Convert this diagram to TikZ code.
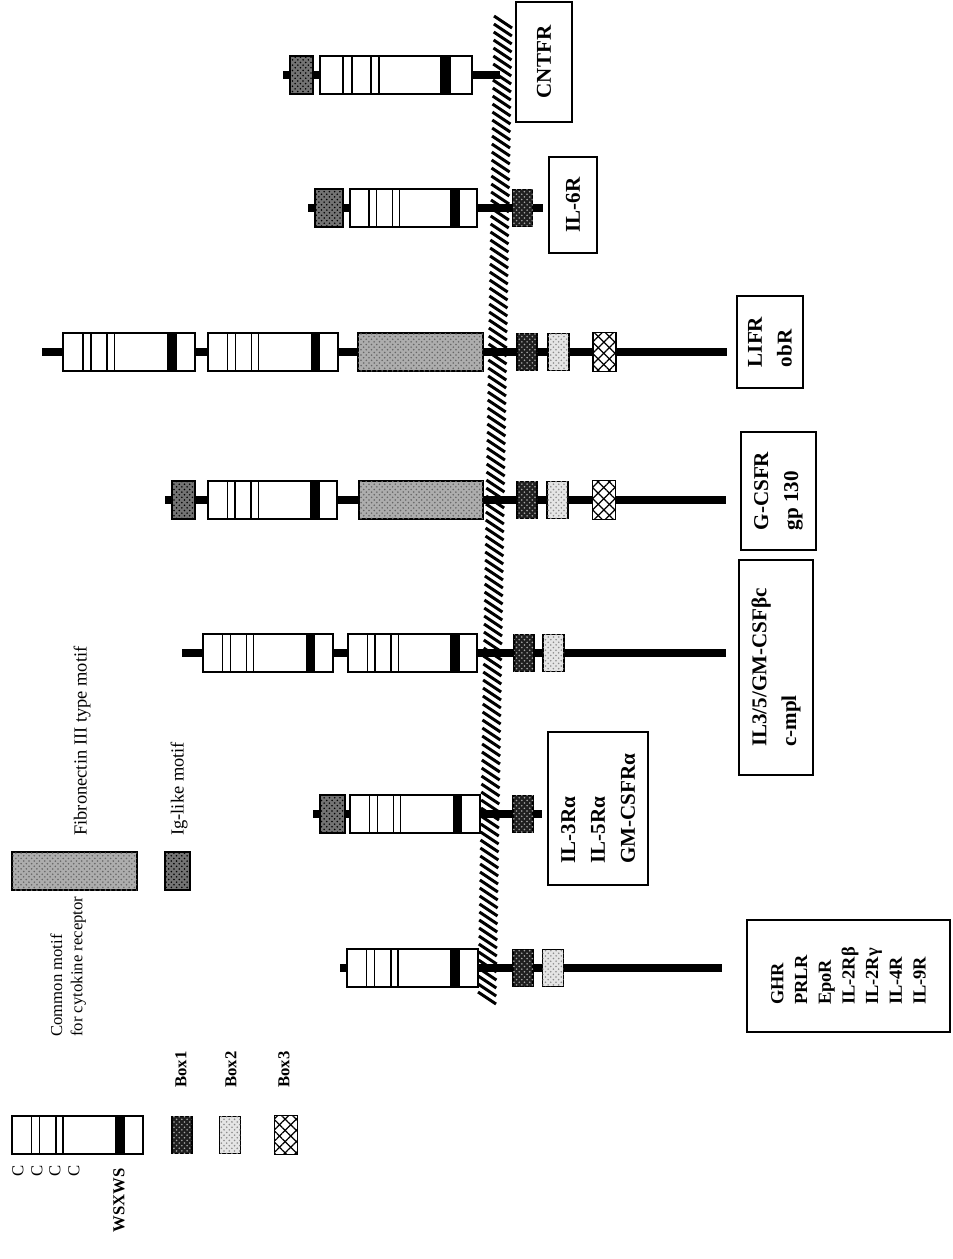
\documentclass[tikz,border=0pt]{standalone}
\usepackage{fontspec}
\setmainfont{Liberation Serif}
\usetikzlibrary{positioning,calc,patterns,patterns.meta}

\tikzset{
  stalk/.style={line width=4.5pt},
  memb/.style={line width=1.7pt},
  dom/.style={draw, line width=1.1pt, inner sep=0pt, minimum height=0.76cm},
  motif/.style={dom, fill=white, minimum width=2.6cm,
    path picture={
      \coordinate (pa) at (path picture bounding box.south west);
      \coordinate (pb) at (path picture bounding box.north east);
      \foreach \f in {0.15,0.21,0.335,0.39}
        \draw[line width=0.9pt] ($(pa)!\f!(pa-|pb)$) -- ($(pa|-pb)!\f!(pb)$);
      \fill[black] ($(pa)!0.79!(pa-|pb)$) rectangle ($(pa|-pb)!0.865!(pb)$);
    }},
  fn/.style={dom, fill=black!32, minimum width=2.5cm,
    postaction={pattern=crosshatch dots, pattern color=black!60}},
  ig/.style={dom, fill=black!55, minimum width=0.5cm,
    postaction={pattern=crosshatch dots, pattern color=black}},
  boxa/.style={dom, fill=black!88, minimum width=0.4cm, minimum height=0.74cm,
    postaction={pattern=crosshatch dots, pattern color=black!35}},
  boxb/.style={dom, fill=black!10, minimum width=0.42cm, minimum height=0.74cm,
    postaction={pattern=crosshatch dots, pattern color=black!45}},
  boxc/.style={dom, fill=white, minimum width=0.46cm, minimum height=0.78cm,
    postaction={pattern={Lines[angle=45,distance=4.5pt,line width=0.7pt]}},
    postaction={pattern={Lines[angle=-45,distance=4.5pt,line width=0.7pt]}}},
  lbl/.style={draw, line width=1.1pt, rotate=90, align=left, inner sep=0pt,
    font=\fontsize{12}{17}\selectfont\bfseries},
  legtxt/.style={rotate=90, align=left, inner sep=0pt,
    font=\fontsize{9.5}{11.5}\selectfont},
  legbig/.style={legtxt, font=\fontsize{10.5}{12.5}\selectfont},
  legbold/.style={legtxt, font=\fontsize{9.5}{11.5}\selectfont\bfseries},
}

\begin{document}
\begin{tikzpicture}[x=0.02cm, y=-0.02cm]
\useasboundingbox (0,0) rectangle (953,1259);

% cell membrane
\coordinate (mtop) at (503,22);
\coordinate (mbot) at (487,1000);
\foreach \yy in {22,30,...,998} {
  \pgfmathsetmacro\xx{503-16*(\yy-22)/978}
  \draw[memb] (\xx-9,\yy-6) -- (\xx+9,\yy+6);
}

% CNTFR
\coordinate (cntS) at (283,75);
\node[ig, minimum width=0.46cm] (cntIg) at (301.5,75) {};
\node[motif, minimum width=3.04cm] (cntM) at (396,75) {};
\coordinate (cntE) at (500,75);
\draw[stalk] (cntS) -- (cntIg) -- (cntM) -- (cntE);
\node[lbl, minimum width=2.4cm, minimum height=1.12cm] (cntL) at (544,62) {CNTFR};

% IL-6R
\coordinate (il6S) at (308,208);
\node[ig, minimum width=0.56cm] (il6Ig) at (329,208) {};
\node[motif, minimum width=2.54cm] (il6M) at (413.5,208) {};
\node[boxa] (il6B1) at (522.5,208) {};
\coordinate (il6E) at (543,208);
\draw[stalk] (il6S) -- (il6Ig) -- (il6M) -- (il6B1) -- (il6E);
\node[lbl, minimum width=1.92cm, minimum height=0.96cm] (il6L) at (573,205) {IL-6R};

% LIFR
\coordinate (lifS) at (42,352);
\node[motif, minimum width=2.64cm] (lifM1) at (129,352) {};
\node[motif] (lifM2) at (273,352) {};
\node[fn] (lifFn) at (420.5,352) {};
\node[boxa] (lifB1) at (527,352) {};
\node[boxb] (lifB2) at (558.5,352) {};
\node[boxc] (lifB3) at (604.5,352) {};
\coordinate (lifE) at (727,352);
\draw[stalk] (lifS) -- (lifM1) -- (lifM2) -- (lifFn) -- (lifB1) -- (lifB2) -- (lifB3) -- (lifE);
\node[lbl, minimum width=1.84cm, minimum height=1.32cm] (lifL) at (770,342) {LIFR\\obR};

% G-CSFR / gp130
\coordinate (gcsS) at (165,500);
\node[ig, minimum width=0.46cm] (gcsIg) at (183.5,500) {};
\node[motif, minimum width=2.58cm] (gcsM) at (272.5,500) {};
\node[fn, minimum width=2.48cm] (gcsFn) at (421,500) {};
\node[boxa] (gcsB1) at (527,500) {};
\node[boxb] (gcsB2) at (557.5,500) {};
\node[boxc] (gcsB3) at (604,500) {};
\coordinate (gcsE) at (726,500);
\draw[stalk] (gcsS) -- (gcsIg) -- (gcsM) -- (gcsFn) -- (gcsB1) -- (gcsB2) -- (gcsB3) -- (gcsE);
\node[lbl, minimum width=2.36cm, minimum height=1.5cm] (gcsL) at (778.5,491) {G-CSFR\\gp 130};

% common beta chain
\coordinate (bcS) at (182,653);
\node[motif] (bcM1) at (268,653) {};
\node[motif, minimum width=2.58cm] (bcM2) at (412.5,653) {};
\node[boxa] (bcB1) at (524,653) {};
\node[boxb] (bcB2) at (553.5,653) {};
\coordinate (bcE) at (726,653);
\draw[stalk] (bcS) -- (bcM1) -- (bcM2) -- (bcB1) -- (bcB2) -- (bcE);
\node[lbl, minimum width=4.3cm, minimum height=1.48cm] (bcL) at (776,667.5) {IL3/5/GM-CSFβc\\c-mpl};

% alpha chains
\coordinate (alS) at (313,814);
\node[ig] (alIg) at (332.5,814) {};
\node[motif] (alM) at (415,814) {};
\node[boxa] (alB1) at (523,814) {};
\coordinate (alE) at (542,814);
\draw[stalk] (alS) -- (alIg) -- (alM) -- (alB1) -- (alE);
\node[lbl, minimum width=3.06cm, minimum height=2.0cm] (alL) at (598,808.5) {IL-3Rα\\IL-5Rα\\GM-CSFRα};

% GHR family
\coordinate (ghS) at (340,968);
\node[motif, minimum width=2.62cm] (ghM) at (412.5,968) {};
\node[boxa] (ghB1) at (523,968) {};
\node[boxb] (ghB2) at (553,968) {};
\coordinate (ghE) at (722,968);
\draw[stalk] (ghS) -- (ghM) -- (ghB1) -- (ghB2) -- (ghE);
\node[lbl, minimum width=2.24cm, minimum height=4.06cm,
  font=\fontsize{10.5}{13.5}\selectfont\bfseries] (ghL) at (848.5,976)
  {GHR\\PRLR\\EpoR\\IL-2Rβ\\IL-2Rγ\\IL-4R\\IL-9R};

% legend
\node[fn] (kFn) at (74.5,871) {};
\node[legbig, anchor=west] (kFnT) at (82,836) {Fibronectin III type motif};
\node[ig] (kIg) at (177.5,871) {};
\node[legbig, anchor=west] (kIgT) at (179,836) {Ig-like motif};
\node[motif, minimum width=2.62cm] (kM) at (77.5,1135) {};
\node[legtxt, anchor=north west] (kMT) at (50,1037) {Common motif\\for cytokine receptor};
\node[boxa] (kB1) at (182,1135) {};
\node[boxb] (kB2) at (230,1135) {};
\node[boxc] (kB3) at (286,1135) {};
\node[legbold, anchor=west] (kB1T) at (181,1088) {Box1};
\node[legbold, anchor=west] (kB2T) at (231,1088) {Box2};
\node[legbold, anchor=west] (kB3T) at (284,1088) {Box3};
\foreach \cx [count=\i] in {18,37,55,74}
  \node[legtxt] (kC\i) at (\cx,1171) {C};
\node[legbold, anchor=east] (kW) at (119,1168) {WSXWS};
\end{tikzpicture}
\end{document}
